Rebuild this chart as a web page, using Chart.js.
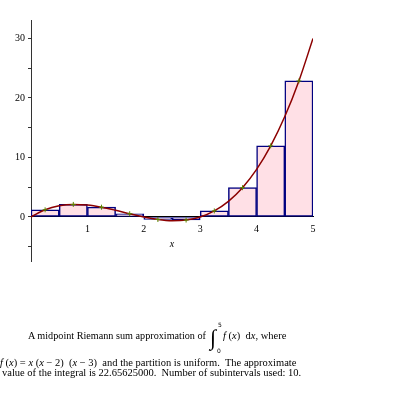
<!DOCTYPE html>
<html>
<head>
<meta charset="utf-8">
<script src="https://cdn.jsdelivr.net/npm/chart.js@4"></script>
<style>
    html, body { margin: 0; padding: 0; background: #fff; }
    #wrap { position: relative; width: 395px; height: 395px; }
    .cap { position: absolute; font-family: "Liberation Serif", serif; font-size: 10.5px; color: #000; white-space: pre; line-height: 10px; }
    .cap i { font-style: italic; }
    .lim { position: absolute; font-family: "DejaVu Sans", sans-serif; font-size: 6px; line-height: 6px; color: #000; }
    .intg { position: absolute; font-family: "Liberation Serif", serif; font-size: 22px; line-height: 22px; color: #000; }
</style>
</head>
<body>
<div id="wrap">
    <canvas id="riemannChart"></canvas>
    <div class="cap" style="left:28px; top:331px; font-size:10.2px;">A midpoint Riemann sum approximation of</div>
    <div class="lim" style="left:218px; top:322px;">5</div>
    <div class="intg" style="left:210px; top:327px;">&#8747;</div>
    <div class="lim" style="left:217px; top:348px;">0</div>
    <div class="cap" style="left:223px; top:331px;"><i>f</i> (<i>x</i>)  d<i>x</i>, where</div>
    <div class="cap" style="left:0px; top:358px;"><i>f</i> (<i>x</i>) = <i>x</i> (<i>x</i> &#8722; 2)  (<i>x</i> &#8722; 3)  and the partition is uniform.  The approximate</div>
    <div class="cap" style="left:2px; top:368px;">value of the integral is 22.65625000.  Number of subintervals used: 10.</div>
</div>
<script>
// Chart Data
const midpoints = [0.25, 0.75, 1.25, 1.75, 2.25, 2.75, 3.25, 3.75, 4.25, 4.75];
const heights = [1.203125, 2.109375, 1.640625, 0.546875, -0.421875, -0.515625, 1.015625, 4.921875, 11.953125, 22.859375];

// f(x)
const curveX = [0, 0.25, 0.5, 0.75, 1, 1.25, 1.5, 1.75, 2, 2.25, 2.5, 2.75, 3, 3.25, 3.5, 3.75, 4, 4.25, 4.5, 4.75, 5];
const curveY = [0, 1.203, 1.875, 2.109, 2, 1.641, 1.125, 0.547, 0, -0.422, -0.625, -0.516, 0, 1.016, 2.625, 4.922, 8, 11.953, 16.875, 22.859, 30];

const xTicks = [1, 2, 3, 4, 5];
const yTicks = [0, 10, 20, 30];

const tickFont = { family: 'Liberation Serif', size: 10 };

const barPoints = midpoints.map((x, i) => ({ x: x, y: heights[i] }));
const curvePoints = curveX.map((x, i) => ({ x: x, y: curveY[i] }));

const data = {
    datasets: [{
        type: 'bar',
        data: barPoints,
        backgroundColor: '#FFE0E6',
        borderColor: '#000080',
        borderWidth: 1.5,
        borderSkipped: false,
        barPercentage: 1,
        categoryPercentage: 1,
        order: 3
    }, {
        type: 'line',
        data: curvePoints,
        borderColor: '#8C0000',
        borderWidth: 1.5,
        pointRadius: 0,
        cubicInterpolationMode: 'monotone',
        fill: false,
        order: 2
    }, {
        type: 'line',
        data: barPoints,
        showLine: false,
        pointStyle: 'cross',
        pointRadius: 2.5,
        pointBorderWidth: 1,
        pointBorderColor: '#5A8A00',
        order: 1
    }]
};

const chartOptions = {
    responsive: true,
    maintainAspectRatio: false,
    animation: false,
    layout: {
        padding: { top: 20, right: 82, bottom: 134, left: 0 }
    },
    plugins: {
        legend: { display: false },
        tooltip: { enabled: false }
    },
    scales: {
        x: {
            type: 'linear',
            position: { y: 0 },
            min: 0,
            max: 5,
            offset: false,
            grid: { display: false, drawOnChartArea: false, tickLength: 3, tickColor: '#000' },
            border: { color: '#000', width: 1 },
            afterBuildTicks(scale) {
                scale.ticks = xTicks.map(v => ({ value: v }));
            },
            ticks: { color: '#000', font: tickFont, padding: 3, maxRotation: 0 },
            title: {
                display: true,
                text: 'x',
                color: '#000',
                font: { family: 'Liberation Serif', size: 10, style: 'italic' },
                padding: { top: 0, bottom: 0 }
            }
        },
        y: {
            type: 'linear',
            position: 'left',
            min: -7.4,
            max: 33.1,
            grid: { display: true, drawOnChartArea: false, tickLength: 3, tickColor: '#333' },
            border: { color: '#333', width: 1 },
            afterBuildTicks(scale) {
                // major ticks plus the unlabelled minor ones every 5
                scale.ticks = [-5, 0, 5, 10, 15, 20, 25, 30].map(v => ({ value: v }));
            },
            ticks: {
                color: '#000',
                font: tickFont,
                padding: 3,
                callback: (v) => yTicks.includes(v) ? String(v) : ''
            },
            afterFit(scale) {
                scale.width = 31;
            }
        }
    }
};

// Initialize Chart
const ctx = document.getElementById('riemannChart');
if (ctx) {
    const riemannChart = new Chart(ctx.getContext('2d'), {
        type: 'bar',
        data,
        options: chartOptions
    });
}
</script>
</body>
</html>
